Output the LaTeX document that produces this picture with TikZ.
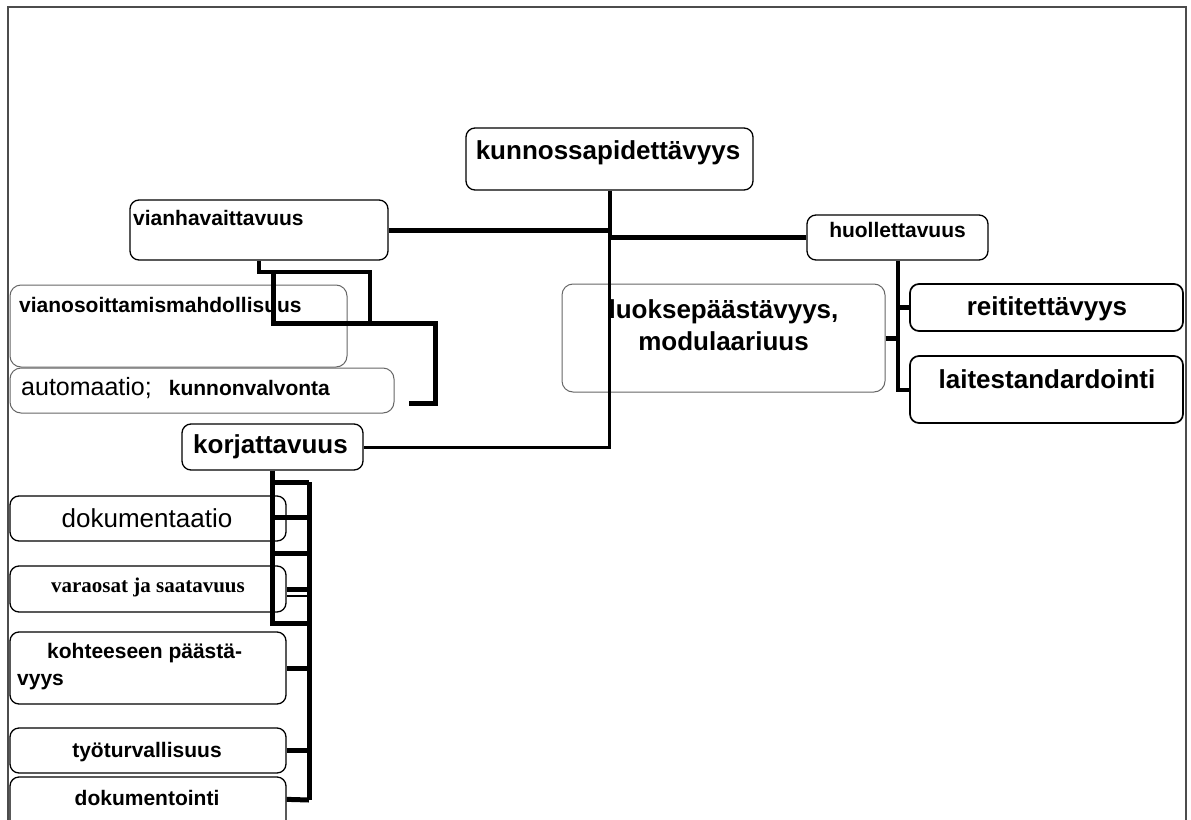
\documentclass[tikz,border=0pt]{standalone}
\usepackage{fontspec}
\setmainfont{Liberation Sans}
\newfontfamily\serifb{Liberation Serif}
\newcommand\fsz[1]{\fontsize{#1pt}{#1pt}\selectfont}
\begin{document}
\begin{tikzpicture}[x=1pt,y=-1pt,
  box/.style={draw=black, line width=1.3pt, rounded corners=9pt, inner sep=0pt},
  tbox/.style={box, line width=1.7pt},
  gbox/.style={draw=black!60, line width=1pt, rounded corners=11pt, inner sep=0pt},
  conn/.style={draw=black, line width=5pt, line cap=butt, line join=miter},
  tl/.style={inner sep=0pt, anchor=base west},
  tc/.style={inner sep=0pt, anchor=base},
  sb/.style={font=\fsz{21}\bfseries},
  lb/.style={font=\fsz{26}\bfseries},
  frame/.style={draw=black!70, line width=2pt}]
\useasboundingbox (0,0) rectangle (1191,819);
\clip (0,0) rectangle (1191,819);
% frame
\draw[frame] (8,840) -- (8,7) -- (1186,7) -- (1186,840);
% boxes
\node[box, minimum width=287pt, minimum height=62pt] (kunn) at (609.5,159) {};
\node[box, minimum width=258pt, minimum height=60pt] (vian) at (259,230) {};
\node[box, minimum width=181pt, minimum height=45pt] (huol) at (897.5,237.5) {};
\node[gbox, minimum width=337pt, minimum height=82pt] (vianos) at (178.5,326) {};
\node[gbox, minimum width=384pt, minimum height=45pt] (auto) at (202,390.5) {};
\node[gbox, minimum width=323pt, minimum height=108pt] (luok) at (723.5,338) {};
\node[tbox, minimum width=273pt, minimum height=47pt] (reit) at (1046.5,307.5) {};
\node[tbox, minimum width=273pt, minimum height=67pt] (lait) at (1046.5,389.5) {};
\node[box, minimum width=181pt, minimum height=46pt] (korj) at (272.5,447) {};
\node[box, minimum width=276pt, minimum height=45pt] (doku) at (148,518.5) {};
\node[box, minimum width=276pt, minimum height=46pt] (vara) at (148,589) {};
\node[box, minimum width=276pt, minimum height=72pt] (koht) at (148,668) {};
\node[box, minimum width=276pt, minimum height=45pt] (tyo) at (148,750.5) {};
\node[box, minimum width=276pt, minimum height=68pt] (dok) at (148,811) {};
% texts
\node[tc, lb] (kunnT) at (608,159) {kunnossapidettävyys};
\node[tl, sb] (vianT) at (133,225) {vianhavaittavuus};
\node[tc, sb] (huolT) at (897.5,237) {huollettavuus};
\node[tl, sb] (vianosT) at (19,312) {vianosoittamismahdollisuus};
\node[tl] (autoT) at (21,395) {\fsz{25}automaatio;\hspace{17pt}\fsz{21}\bfseries kunnonvalvonta};
\node[tc, lb] (luokT1) at (723.5,318) {luoksepäästävyys,};
\node[tc, lb] (luokT2) at (723.5,350) {modulaariuus};
\node[tc, lb] (reitT) at (1047,315) {reititettävyys};
\node[tc, lb] (laitT) at (1047,388) {laitestandardointi};
\node[tl, lb] (korjT) at (193,453) {korjattavuus};
\node[tc, font=\fsz{26}] (dokuT) at (147,527) {dokumentaatio};
\node[tc, font=\fsz{21}\serifb\bfseries] (varaT) at (148,592) {varaosat ja saatavuus};
\node[tl, sb] (kohtT1) at (47,658) {kohteeseen päästä-};
\node[tl, sb] (kohtT2) at (17,685) {vyys};
\node[tc, sb] (tyoT) at (147,757) {työturvallisuus};
\node[tc, sb] (dokT) at (147,805) {dokumentointi};
% named free ends
\coordinate (va) at (370,272);
\coordinate (vb) at (370,323);
\coordinate (vc) at (273,272);
\coordinate (vd) at (435,323);
\coordinate (ve) at (435,403);
\coordinate (vf) at (409,403);
\coordinate (kr) at (309,482);
\coordinate (kb) at (309,800);
% connectors: top level
\draw[conn] (vian.east) -- (vian.east -| kunn.south);
\draw[conn, line width=4pt] (kunn.south) -- (kunn.south |- huol.west);
\draw[conn] (kunn.south |- huol.west) -- (huol.west);
\draw[conn, line width=3pt] (kunn.south |- huol.west) |- (korj.east);
% huollettavuus
\draw[conn, line width=4pt] (huol.south) |- (lait.west);
\draw[conn] (reit.west) -- (reit.west -| huol.south);
\draw[conn] (luok.east) -- (luok.east -| huol.south);
% vianhavaittavuus
\draw[conn, line width=4pt] (vian.south) |- (va) -- (vb);
\draw[conn] (vc) -- (vc |- vb) -- (vd) -- (ve) -- (vf);
% korjattavuus
\draw[conn] (korj.south) -- (korj.south |- 0,623) -- (kr |- 0,623);
\draw[conn] (kr) -- (kb);
\draw[conn] (korj.south |- kr) -- (kr);
\draw[conn] (korj.south |- 0,517) -- (kr |- 0,517);
\draw[conn] (korj.south |- 0,553) -- (kr |- 0,553);
\draw[conn] (vara.east) -- (vara.east -| kr);
\draw[conn, line width=2.5pt] ([yshift=-7pt]vara.east) -- ([yshift=-7pt]vara.east -| kr);
\draw[conn] (koht.east) -- (koht.east -| kr);
\draw[conn] (tyo.east) -- (tyo.east -| kr);
\draw[conn] ([yshift=-23pt]dok.north east) -- (kb);
\end{tikzpicture}
\end{document}
